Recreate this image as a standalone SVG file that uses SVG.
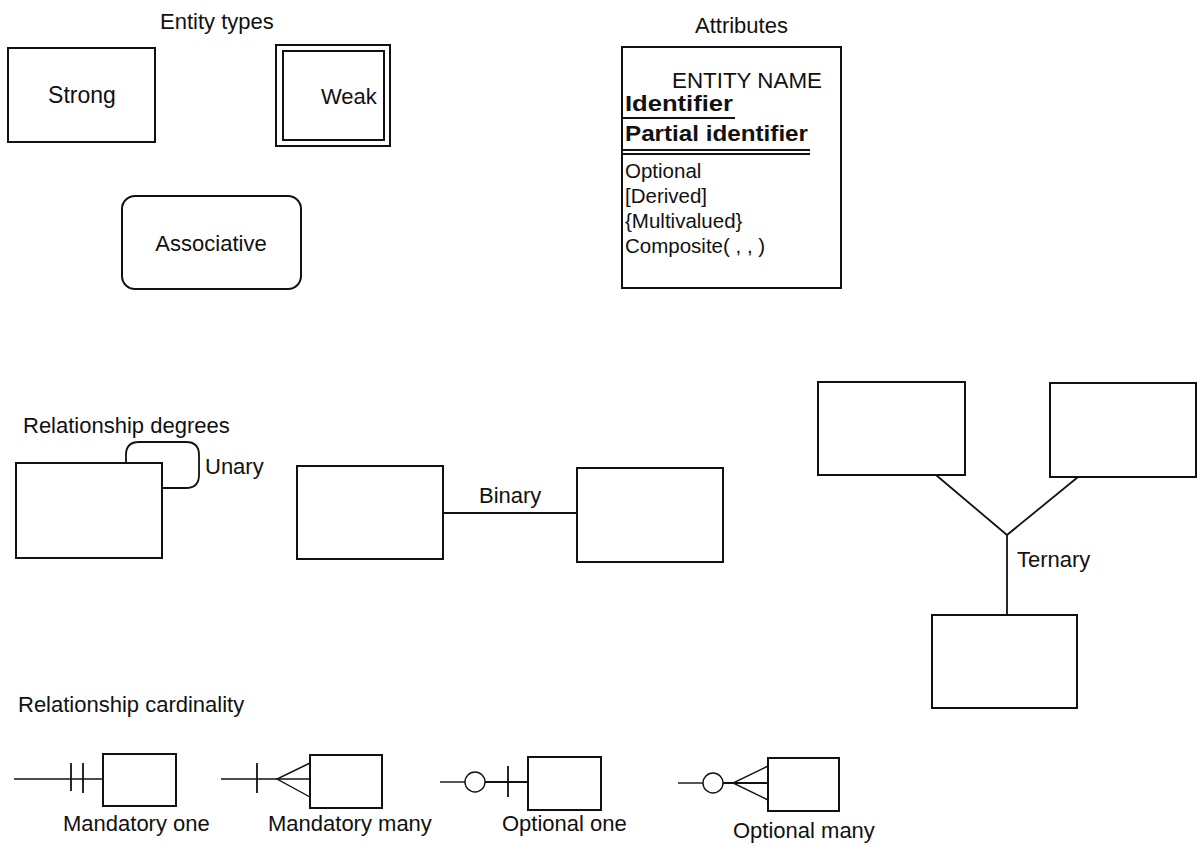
<svg xmlns="http://www.w3.org/2000/svg" width="1198" height="847" viewBox="0 0 1198 847">
<style>
text{font-family:"Liberation Sans",Arial,Helvetica,sans-serif;font-size:22px;fill:#111}
.b{font-weight:bold;font-size:22.5px}
.a{font-size:20.5px}
.c{text-anchor:middle}
.box{fill:#fff;stroke:#111;stroke-width:2}
.ln{fill:none;stroke:#111;stroke-width:1.8}
.thin{fill:none;stroke:#111;stroke-width:1.4}
</style>
<rect width="1198" height="847" fill="#fff"/>
<g id="titles">
<text x="160" y="29">Entity types</text>
<text x="695" y="33">Attributes</text>
<text x="23" y="433">Relationship degrees</text>
<text x="18" y="712">Relationship cardinality</text>
</g>
<g id="strong"><rect class="box" x="8" y="48" width="147" height="94"/><text class="c" x="82" y="103" style="font-size:23px">Strong</text></g>
<g id="weak"><rect class="box" x="276" y="45" width="114" height="101"/><rect class="box" x="283" y="51" width="101" height="89"/><text x="321" y="104">Weak</text></g>
<g id="associative"><rect class="box" x="122" y="196" width="179" height="93" rx="13"/><text class="c" x="211" y="251">Associative</text></g>
<g id="attributes">
<rect class="box" x="622" y="47" width="219" height="241"/>
<text x="672" y="88" textLength="150" lengthAdjust="spacingAndGlyphs">ENTITY NAME</text>
<text class="b" x="625" y="111" textLength="108" lengthAdjust="spacingAndGlyphs">Identifier</text>
<line class="ln" x1="623" y1="118" x2="735" y2="118"/>
<text class="b" x="625" y="141" textLength="183" lengthAdjust="spacingAndGlyphs">Partial identifier</text>
<line class="ln" x1="623" y1="150" x2="810" y2="150"/>
<line class="ln" x1="623" y1="154" x2="810" y2="154"/>
<text class="a" x="625" y="178">Optional</text>
<text class="a" x="625" y="203">[Derived]</text>
<text class="a" x="625" y="228">{Multivalued}</text>
<text class="a" x="625" y="253">Composite( , , )</text>
</g>
<g id="unary"><rect class="box" x="16" y="463" width="146" height="95"/></g>
<g id="binary-left"><rect class="box" x="297" y="466" width="146" height="93"/></g>
<g id="binary-right"><rect class="box" x="577" y="468" width="146" height="94"/></g>
<g id="ternary-a"><rect class="box" x="818" y="382" width="147" height="93"/></g>
<g id="ternary-b"><rect class="box" x="1050" y="383" width="146" height="94"/></g>
<g id="ternary-c"><rect class="box" x="932" y="615" width="145" height="93"/></g>
<g id="card-boxes">
<rect class="box" x="103" y="754" width="73" height="52"/>
<rect class="box" x="310" y="755" width="72" height="53"/>
<rect class="box" x="528" y="757" width="73" height="53"/>
<rect class="box" x="768" y="758" width="71" height="53"/>
</g>
<g id="connectors">
<path class="ln" d="M126 463 V455 Q126 442 139 442 H186 Q199 442 199 455 V475 Q199 488 186 488 H162"/>
<line class="ln" x1="443" y1="513" x2="577" y2="513"/>
<path class="ln" d="M936 475 L1007 535 L1078 477 M1007 535 V615"/>
<line class="thin" x1="14" y1="779" x2="103" y2="779"/>
<line class="ln" x1="71" y1="763" x2="71" y2="791"/>
<line class="ln" x1="83" y1="763" x2="83" y2="793"/>
<line class="thin" x1="221" y1="779" x2="310" y2="779"/>
<line class="ln" x1="257" y1="763" x2="257" y2="793"/>
<path class="thin" d="M310 763 L277 779 L310 797"/>
<line class="thin" x1="440" y1="782" x2="465" y2="782"/>
<circle class="thin" cx="475" cy="782" r="10"/>
<line class="ln" x1="485" y1="782" x2="528" y2="782"/>
<line class="ln" x1="508" y1="766" x2="508" y2="797"/>
<line class="thin" x1="678" y1="783" x2="703" y2="783"/>
<circle class="thin" cx="713" cy="783" r="10"/>
<line class="ln" x1="723" y1="783" x2="768" y2="783"/>
<path class="thin" d="M768 766 L733 783 L768 800"/>
</g>
<g id="labels">
<text x="205" y="474">Unary</text>
<text x="479" y="503">Binary</text>
<text x="1017" y="567">Ternary</text>
<text x="63" y="831">Mandatory one</text>
<text x="268" y="831">Mandatory many</text>
<text x="502" y="831">Optional one</text>
<text x="733" y="838">Optional many</text>
</g>
</svg>
